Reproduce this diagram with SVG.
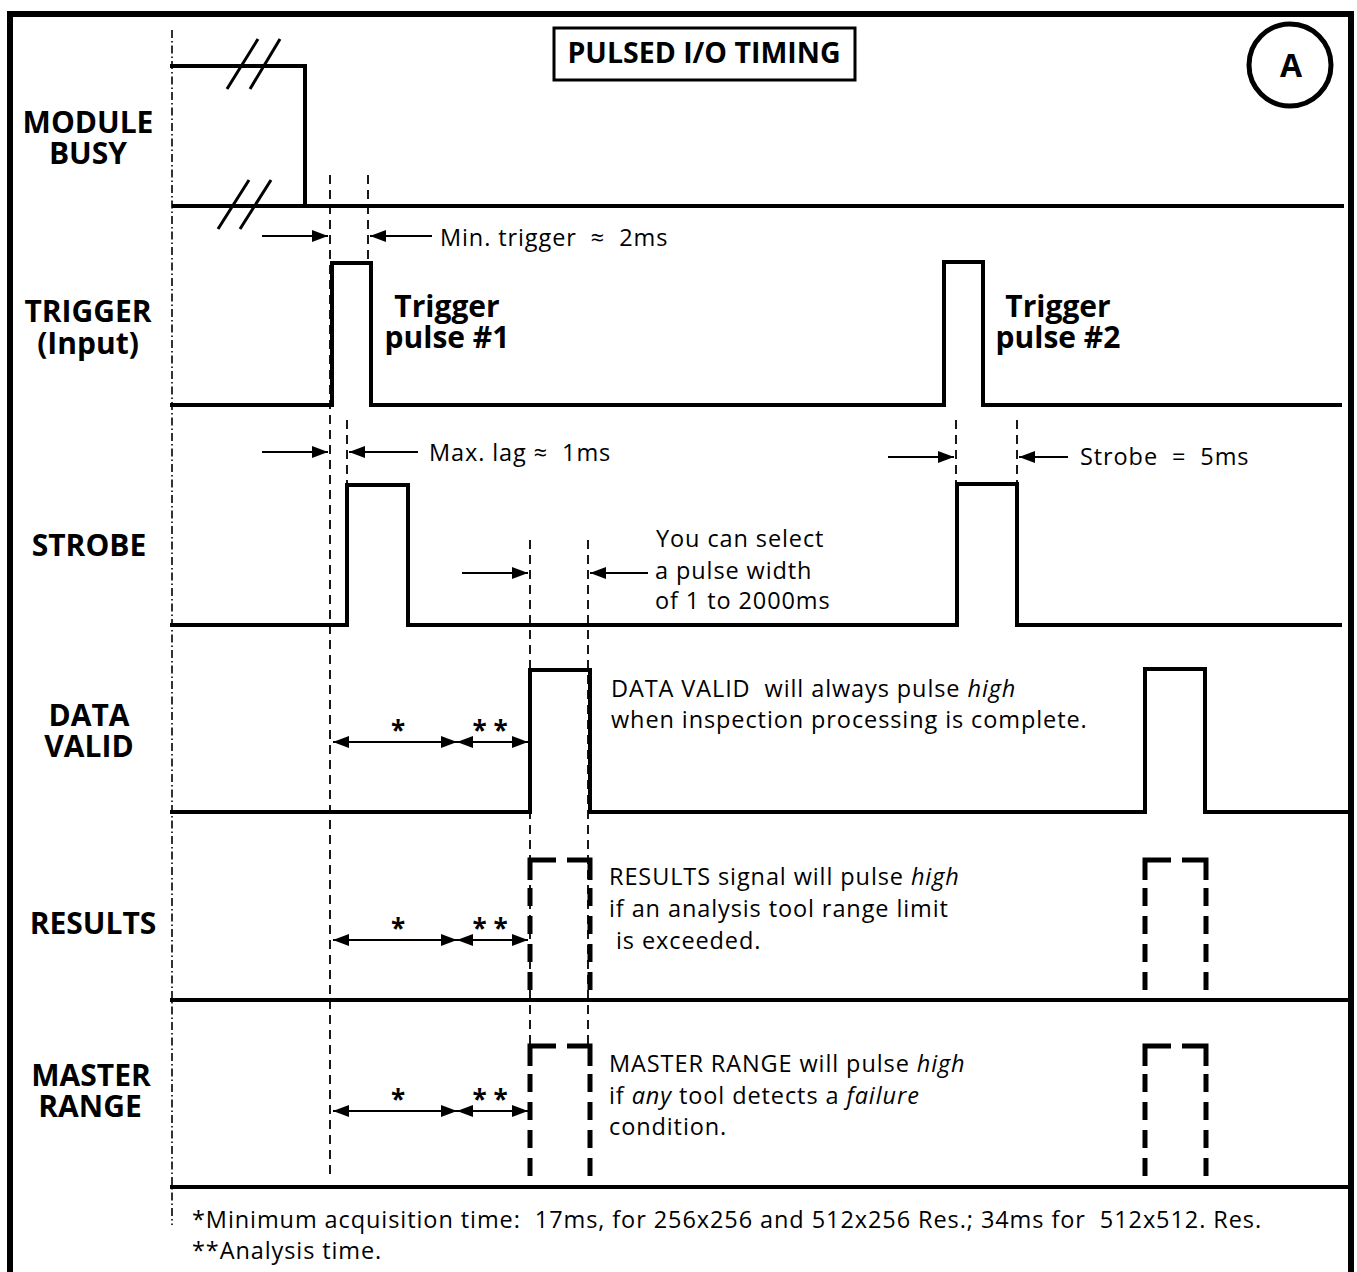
<svg xmlns="http://www.w3.org/2000/svg" width="1357" height="1272" viewBox="0 0 1357 1272">
<style>
.sig{fill:none;stroke:#000;stroke-width:4;stroke-linejoin:miter;stroke-linecap:square}
.thin{fill:none;stroke:#000;stroke-width:1.8;stroke-dasharray:9 6}
.axis{fill:none;stroke:#000;stroke-width:1.6;stroke-dasharray:8 3 1.5 3}
.tick{fill:none;stroke:#000;stroke-width:5;stroke-linecap:butt}
.tickd{fill:none;stroke:#000;stroke-width:5;stroke-linecap:butt;stroke-dasharray:18 10}
.arr{fill:none;stroke:#000;stroke-width:1.8}
.lbl{font-family:"Open Sans","Liberation Sans",sans-serif;font-weight:bold;font-size:30px;text-anchor:middle;fill:#000}
.txt{font-family:"Open Sans","Liberation Sans",sans-serif;font-size:23.5px;letter-spacing:0.9px;fill:#000;white-space:pre}
.star{font-family:"Open Sans","Liberation Sans",sans-serif;font-size:26px;font-weight:bold;fill:#000;text-anchor:middle;white-space:pre}
</style>
<defs>
<marker id="ah" viewBox="0 0 16 12" refX="16" refY="6" markerWidth="16" markerHeight="12" markerUnits="userSpaceOnUse" orient="auto-start-reverse">
<path d="M0,0 L16,6 L0,12 z" fill="#000"/>
</marker>
</defs>
<rect width="1357" height="1272" fill="#fff"/>
<!-- frame -->
<path d="M10,1272 V14 H1351 V1272" fill="none" stroke="#000" stroke-width="6"/>
<g id="title">
<rect x="554" y="28" width="301" height="52" fill="none" stroke="#000" stroke-width="3"/>
<text x="704" y="63" class="lbl" style="font-size:28.5px">PULSED I/O TIMING</text>
</g>
<g id="badge">
<circle cx="1290" cy="65" r="41" fill="none" stroke="#000" stroke-width="5"/>
<text x="1291" y="77" class="lbl" style="font-size:32px">A</text>
</g>
<!-- axis -->
<path class="axis" d="M172,30 V1225"/>
<g id="labels">
<text x="88" y="133" class="lbl">MODULE</text>
<text x="88" y="164" class="lbl">BUSY</text>
<text x="88" y="322" class="lbl">TRIGGER</text>
<text x="88" y="354" class="lbl">(Input)</text>
<text x="89" y="556" class="lbl">STROBE</text>
<text x="89" y="726" class="lbl">DATA</text>
<text x="89" y="757" class="lbl">VALID</text>
<text x="93" y="934" class="lbl">RESULTS</text>
<text x="91" y="1086" class="lbl">MASTER</text>
<text x="90" y="1117" class="lbl">RANGE</text>
</g>
<g id="guides">
<path class="thin" d="M330,175 V1176"/>
<path class="thin" d="M368,175 V262"/>
<path class="thin" d="M347,420 V484"/>
<path class="thin" d="M956,420 V484"/>
<path class="thin" d="M1017,420 V484"/>
<path class="thin" d="M530,540 V1046"/>
<path class="thin" d="M588,540 V1046"/>
</g>
<g id="module-busy">
<path class="sig" d="M172,66 H305 V206"/>
<path class="sig" d="M174,206 H1342"/>
<path d="M227,89 L258,39 M250,89 L280,39 M218,229 L249,180 M240,229 L271,180" fill="none" stroke="#000" stroke-width="3"/>
</g>
<g id="trigger">
<path class="sig" d="M172,405 H332 V263 H371 V405 H944 V262 H983 V405 H1340"/>
<text x="447" y="317" class="lbl">Trigger</text>
<text x="447" y="348" class="lbl">pulse #1</text>
<text x="1058" y="317" class="lbl">Trigger</text>
<text x="1058" y="348" class="lbl">pulse #2</text>
</g>
<g id="strobe">
<path class="sig" d="M172,625 H347 V485 H408 V625 H957 V484 H1017 V625 H1340"/>
</g>
<g id="data-valid">
<path class="sig" d="M172,812 H530 V670 H590 V812 H1145 V669 H1205 V812 H1346"/>
<text x="611" y="697" class="txt">DATA VALID  will always pulse <tspan font-style="italic">high</tspan></text>
<text x="611" y="728" class="txt">when inspection processing is complete.</text>
</g>
<g id="results">
<path class="sig" d="M172,1000 H1346"/>
<path class="tick" d="M530,880 V860 H556 M567,860 H590 V880"/>
<path class="tickd" d="M530,888 V1000 M590,888 V1000"/>
<path class="tick" d="M1145,880 V860 H1171 M1182,860 H1206 V880"/>
<path class="tickd" d="M1145,888 V1000 M1206,888 V1000"/>
<text x="609" y="885" class="txt">RESULTS signal will pulse <tspan font-style="italic">high</tspan></text>
<text x="609" y="917" class="txt">if an analysis tool range limit</text>
<text x="609" y="949" class="txt"> is exceeded.</text>
</g>
<g id="master-range">
<path class="sig" d="M172,1187 H1346"/>
<path class="tick" d="M530,1066 V1046 H556 M567,1046 H590 V1066"/>
<path class="tickd" d="M530,1074 V1187 M590,1074 V1187"/>
<path class="tick" d="M1145,1066 V1046 H1171 M1182,1046 H1206 V1066"/>
<path class="tickd" d="M1145,1074 V1187 M1206,1074 V1187"/>
<text x="609" y="1072" class="txt">MASTER RANGE will pulse <tspan font-style="italic">high</tspan></text>
<text x="609" y="1104" class="txt">if <tspan font-style="italic">any</tspan> tool detects a <tspan font-style="italic">failure</tspan></text>
<text x="609" y="1135" class="txt">condition.</text>
</g>
<g id="connectors">
<path class="arr" marker-end="url(#ah)" d="M262,236 H328"/>
<path class="arr" marker-end="url(#ah)" d="M432,236 H370"/>
<path class="arr" marker-end="url(#ah)" d="M262,452 H328"/>
<path class="arr" marker-end="url(#ah)" d="M418,452 H349"/>
<path class="arr" marker-end="url(#ah)" d="M888,457 H954"/>
<path class="arr" marker-end="url(#ah)" d="M1068,457 H1019"/>
<path class="arr" marker-end="url(#ah)" d="M462,573 H528"/>
<path class="arr" marker-end="url(#ah)" d="M648,573 H590"/>
<path class="arr" marker-start="url(#ah)" marker-end="url(#ah)" d="M333,742 H457"/>
<path class="arr" marker-start="url(#ah)" marker-end="url(#ah)" d="M457,742 H528"/>
<path class="arr" marker-start="url(#ah)" marker-end="url(#ah)" d="M333,940 H457"/>
<path class="arr" marker-start="url(#ah)" marker-end="url(#ah)" d="M457,940 H528"/>
<path class="arr" marker-start="url(#ah)" marker-end="url(#ah)" d="M333,1111 H457"/>
<path class="arr" marker-start="url(#ah)" marker-end="url(#ah)" d="M457,1111 H528"/>
</g>
<g id="annotations">
<text x="440" y="246" class="txt">Min. trigger  ≈  2ms</text>
<text x="429" y="461" class="txt">Max. lag ≈  1ms</text>
<text x="1080" y="465" class="txt">Strobe  =  5ms</text>
<text x="656" y="547" class="txt">You can select</text>
<text x="655" y="579" class="txt">a pulse width</text>
<text x="655" y="609" class="txt">of 1 to 2000ms</text>
<text x="398" y="740" class="star">*</text>
<text x="490" y="740" class="star">* *</text>
<text x="398" y="938" class="star">*</text>
<text x="490" y="938" class="star">* *</text>
<text x="398" y="1109" class="star">*</text>
<text x="490" y="1109" class="star">* *</text>
<text x="192" y="1228" class="txt" textLength="1070" lengthAdjust="spacing">*Minimum acquisition time:  17ms, for 256x256 and 512x256 Res.; 34ms for  512x512. Res.</text>
<text x="192" y="1259" class="txt">**Analysis time.</text>
</g>
</svg>
